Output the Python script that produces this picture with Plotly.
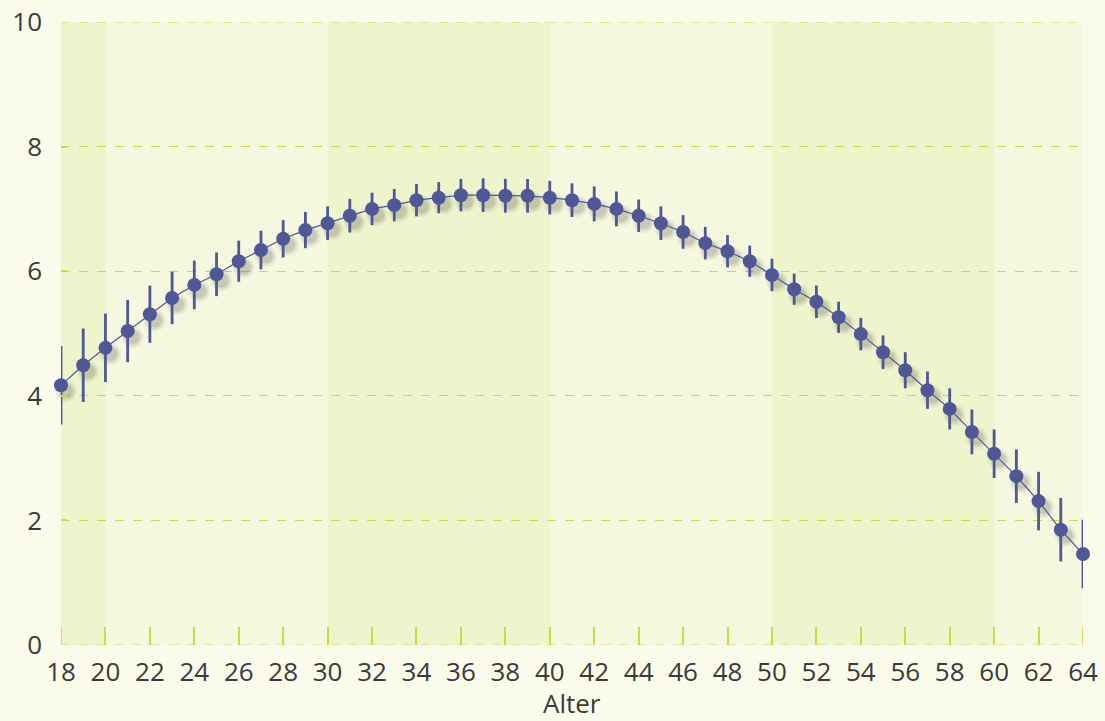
import plotly.graph_objects as go

ages = list(range(18, 65))
values = [4.17, 4.49, 4.77, 5.04, 5.31, 5.57, 5.78, 5.95, 6.16, 6.34, 6.52, 6.66, 6.77, 6.89,
          7.00, 7.06, 7.14, 7.18, 7.22, 7.22, 7.21, 7.21, 7.18, 7.14, 7.08, 7.00, 6.89, 6.77,
          6.63, 6.45, 6.32, 6.16, 5.94, 5.71, 5.51, 5.26, 4.99, 4.70, 4.41, 4.09, 3.79, 3.42,
          3.07, 2.71, 2.31, 1.85, 1.46]
errors = [0.63, 0.59, 0.55, 0.50, 0.46, 0.42, 0.39, 0.35, 0.33, 0.31, 0.30, 0.29, 0.27, 0.27,
          0.26, 0.26, 0.26, 0.25, 0.26, 0.27, 0.27, 0.27, 0.27, 0.27, 0.28, 0.28, 0.26, 0.27,
          0.27, 0.26, 0.26, 0.25, 0.26, 0.25, 0.26, 0.25, 0.26, 0.27, 0.29, 0.30, 0.33, 0.36,
          0.39, 0.43, 0.47, 0.51, 0.55]
bands = [(18, 20), (30, 40), (50, 60)]
edge_grid = [0, 10]
x_range = [18, 64]
y_range = [0, 10]
x_title = "Alter"

MARK = "#4f5896"
GRID = "#c5dc45"
TXT = "#3a3a3a"
FONT = "Open Sans, Noto Sans, sans-serif"

# shadow offset in axis units (shifts drawing by a few pixels)
sdx = 0.22
sdy = 0.10

fig = go.Figure()

for size, alpha in [(22, 0.05), (18, 0.08), (14, 0.10)]:
    fig.add_trace(go.Scatter(
        x=ages, y=values, mode="markers", xaxis="x2", yaxis="y2", cliponaxis=False,
        marker=dict(size=size, color=f"rgba(40,40,40,{alpha})", line=dict(width=0)),
        hoverinfo="skip", showlegend=False))

fig.add_trace(go.Scatter(
    x=ages, y=values, mode="lines+markers", xaxis="x3", yaxis="y3", cliponaxis=False,
    line=dict(color=MARK, width=1.2),
    marker=dict(size=14, color=MARK, line=dict(width=0)),
    error_y=dict(type="data", array=errors, visible=True, color=MARK, thickness=2.8, width=0),
    showlegend=False))

for a, b in bands:
    fig.add_shape(type="rect", xref="x", yref="paper", x0=a, x1=b, y0=0, y1=1,
                  fillcolor="#eef4cb", line=dict(width=0), layer="below")
for g in edge_grid:
    fig.add_shape(type="line", xref="paper", yref="y", x0=0, x1=1, y0=g, y1=g,
                  line=dict(color=GRID, width=1.2, dash="dash"), layer="below")
# tick marks at both ends of the x axis (plotly omits them at the very edge)
for xe in x_range:
    fig.add_shape(type="line", xref="x", yref="paper", x0=xe, x1=xe, y0=0, y1=18 / 623,
                  line=dict(color=GRID, width=1.5))

fig.add_annotation(text=x_title, xref="paper", yref="paper", x=0.5, y=-58 / 623,
                   xanchor="center", yanchor="middle", showarrow=False,
                   font=dict(size=26, color=TXT, family=FONT))

hidden = dict(showgrid=False, zeroline=False, showticklabels=False, ticks="", showline=False)

fig.update_layout(
    width=1105, height=721,
    margin=dict(l=61, r=22, t=22, b=76, autoexpand=False),
    paper_bgcolor="#fafbea",
    plot_bgcolor="#f5f7de",
    font=dict(family=FONT, color=TXT, size=26),
    xaxis=dict(range=x_range, dtick=2, tick0=18, ticks="inside", ticklen=18, tickwidth=1.5,
               tickcolor=GRID, showgrid=False, zeroline=False, showline=False,
               automargin=False, ticklabelstandoff=9,
               tickfont=dict(size=26, color=TXT)),
    yaxis=dict(range=y_range, dtick=2, ticks="inside", ticklen=6, tickwidth=1.5, tickcolor=GRID,
               showgrid=True, gridcolor=GRID, griddash="dash", gridwidth=1.2,
               zeroline=False, showline=False, ticklabelstandoff=18, automargin=False,
               tickfont=dict(size=26, color=TXT)),
    xaxis2=dict(overlaying="x", range=[x_range[0] - sdx, x_range[1] - sdx], **hidden),
    yaxis2=dict(overlaying="y", range=[y_range[0] + sdy, y_range[1] + sdy], **hidden),
    xaxis3=dict(overlaying="x", range=x_range, **hidden),
    yaxis3=dict(overlaying="y", range=y_range, **hidden),
)

fig.write_html("out.html", config={"displayModeBar": False},
               post_script="document.body.style.margin='0';document.body.style.background='#fafbea';")
